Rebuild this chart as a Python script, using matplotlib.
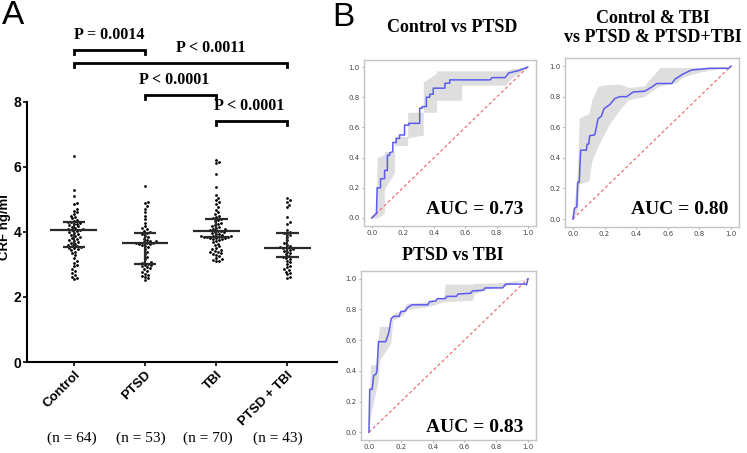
import numpy as np
import matplotlib
matplotlib.use('Agg')
import matplotlib.pyplot as plt

# ---------------- data ----------------
groups = ['Control', 'PTSD', 'TBI', 'PTSD + TBI']
n_labels = ['(n = 64)', '(n = 53)', '(n = 70)', '(n = 43)']

control = [6.34, 5.28, 5.12, 4.88, 4.85, 4.72, 4.66, 4.60, 4.55, 4.50, 4.46, 4.42, 4.38, 4.34,
           4.31, 4.30, 4.28, 4.26, 4.24, 4.21, 4.18, 4.15, 4.12, 4.10, 4.08, 4.07, 4.05, 4.03,
           4.00, 3.97, 3.94, 3.91, 3.88, 3.85, 3.82, 3.79, 3.76, 3.73, 3.70, 3.67, 3.64, 3.61,
           3.58, 3.56, 3.54, 3.52, 3.50, 3.47, 3.44, 3.40, 3.35, 3.28, 3.20, 3.12, 3.05, 3.00,
           2.94, 2.86, 2.80, 2.74, 2.68, 2.63, 2.58, 2.55]
ptsd = [5.43, 4.92, 4.88, 4.80, 4.72, 4.62, 4.50, 4.40, 4.28, 4.18, 4.12, 4.08, 4.04, 4.00,
        3.97, 3.93, 3.88, 3.84, 3.80, 3.76, 3.73, 3.71, 3.69, 3.67, 3.66, 3.65, 3.64, 3.63,
        3.61, 3.58, 3.54, 3.48, 3.40, 3.32, 3.24, 3.16, 3.08, 3.05, 3.02, 3.00, 2.97, 2.94,
        2.91, 2.88, 2.85, 2.81, 2.77, 2.72, 2.68, 2.65, 2.62, 2.57, 2.52]
tbi = [6.21, 6.16, 6.11, 5.78, 5.38, 5.15, 5.06, 4.98, 4.93, 4.86, 4.76, 4.68, 4.60, 4.54,
       4.49, 4.45, 4.42, 4.39, 4.36, 4.33, 4.29, 4.26, 4.22, 4.19, 4.16, 4.13, 4.10, 4.08,
       4.06, 4.04, 4.03, 4.01, 3.99, 3.97, 3.95, 3.93, 3.91, 3.89, 3.88, 3.87, 3.86, 3.85,
       3.85, 3.84, 3.83, 3.82, 3.81, 3.80, 3.78, 3.75, 3.72, 3.68, 3.64, 3.60, 3.56, 3.52,
       3.48, 3.45, 3.42, 3.39, 3.37, 3.35, 3.33, 3.30, 3.26, 3.20, 3.16, 3.13, 3.11, 3.10]
ptsd_tbi = [5.06, 4.99, 4.92, 4.84, 4.76, 4.47, 4.30, 4.26, 4.06, 4.01, 3.97, 3.94, 3.90,
            3.84, 3.74, 3.65, 3.60, 3.57, 3.54, 3.52, 3.50, 3.48, 3.46, 3.43, 3.39, 3.35,
            3.31, 3.27, 3.23, 3.21, 3.17, 3.12, 3.07, 3.01, 2.96, 2.91, 2.86, 2.82, 2.78,
            2.74, 2.70, 2.63, 2.59]
medians = [4.07, 3.65, 4.03, 3.50]
q1 = [3.55, 3.03, 3.85, 3.22]
q3 = [4.30, 3.98, 4.40, 3.97]

# significance brackets: (left group, right group, height, label)
brackets = [(0, 1, 9.60, 'P = 0.0014'),
            (0, 3, 9.20, 'P < 0.0011'),
            (1, 2, 8.22, 'P < 0.0001'),
            (2, 3, 7.42, 'P < 0.0001')]
bracket_label_x = [0.5, 1.92, 1.41, 2.46]

# ROC: Control vs PTSD  (fpr, tpr)
cp_curve = [(0.00, 0.00), (0.030, 0.03), (0.034, 0.20), (0.056, 0.20), (0.056, 0.26),
            (0.082, 0.26), (0.082, 0.315), (0.100, 0.315), (0.100, 0.415), (0.114, 0.415),
            (0.114, 0.43), (0.135, 0.44), (0.135, 0.50), (0.157, 0.50), (0.157, 0.527),
            (0.178, 0.527), (0.178, 0.55), (0.21, 0.55), (0.21, 0.615), (0.237, 0.615),
            (0.237, 0.627), (0.307, 0.627), (0.307, 0.727), (0.323, 0.727), (0.323, 0.738),
            (0.35, 0.738), (0.35, 0.80), (0.372, 0.80), (0.372, 0.82), (0.394, 0.82),
            (0.394, 0.86), (0.469, 0.86), (0.469, 0.893), (0.50, 0.893), (0.50, 0.915),
            (0.76, 0.915), (0.77, 0.93), (0.856, 0.93), (0.877, 0.96), (0.94, 0.976), (1.00, 1.00)]
# band: (fpr, lower, upper)
cp_band = [(0.00, 0.00, 0.02), (0.03, 0.00, 0.05), (0.034, 0.00, 0.40), (0.08, 0.03, 0.42),
           (0.08, 0.19, 0.44), (0.146, 0.30, 0.44), (0.146, 0.48, 0.54), (0.23, 0.48, 0.54),
           (0.23, 0.53, 0.70), (0.33, 0.55, 0.70), (0.33, 0.70, 0.90), (0.415, 0.70, 0.96),
           (0.415, 0.78, 0.975), (0.576, 0.78, 0.975), (0.576, 0.88, 0.975), (0.856, 0.88, 0.975),
           (0.90, 0.93, 0.99), (1.00, 1.00, 1.00)]

# ROC: Control & TBI vs PTSD & PTSD+TBI
ct_curve = [(0.00, 0.00), (0.01, 0.07), (0.025, 0.08), (0.03, 0.24), (0.04, 0.24), (0.049, 0.45),
            (0.085, 0.45), (0.09, 0.49), (0.10, 0.49), (0.106, 0.545), (0.138, 0.55), (0.148, 0.60),
            (0.159, 0.656), (0.18, 0.672), (0.197, 0.722), (0.233, 0.748), (0.265, 0.788),
            (0.297, 0.80), (0.34, 0.80), (0.38, 0.83), (0.455, 0.836), (0.50, 0.864), (0.53, 0.886),
            (0.625, 0.886), (0.646, 0.915), (0.70, 0.95), (0.75, 0.974), (0.86, 0.985),
            (0.985, 0.985), (1.00, 1.00)]
ct_band = [(0.00, 0.00, 0.02), (0.028, 0.05, 0.30), (0.04, 0.23, 0.66), (0.10, 0.25, 0.69),
           (0.12, 0.38, 0.78), (0.16, 0.48, 0.87), (0.23, 0.62, 0.88), (0.30, 0.72, 0.88),
           (0.35, 0.78, 0.86), (0.45, 0.80, 0.87), (0.50, 0.84, 0.93), (0.55, 0.87, 0.99),
           (0.65, 0.89, 0.99), (0.70, 0.93, 0.99), (0.80, 0.96, 0.99), (1.00, 1.00, 1.00)]

# ROC: PTSD vs TBI
pt_curve = [(0.00, 0.00), (0.005, 0.28), (0.02, 0.28), (0.03, 0.37), (0.045, 0.38), (0.05, 0.40),
            (0.06, 0.59), (0.105, 0.59), (0.115, 0.62), (0.125, 0.65), (0.14, 0.74), (0.155, 0.755),
            (0.19, 0.755), (0.20, 0.785), (0.23, 0.79), (0.24, 0.81), (0.27, 0.83), (0.37, 0.83),
            (0.38, 0.85), (0.42, 0.855), (0.43, 0.87), (0.48, 0.87), (0.49, 0.885), (0.55, 0.885),
            (0.56, 0.90), (0.64, 0.905), (0.65, 0.92), (0.72, 0.925), (0.73, 0.94), (0.84, 0.94),
            (0.86, 0.965), (0.98, 0.965), (0.99, 0.96), (1.00, 1.00)]
pt_band = [(0.00, 0.00, 0.02), (0.01, 0.11, 0.44), (0.05, 0.30, 0.44), (0.055, 0.32, 0.60),
           (0.067, 0.47, 0.69), (0.137, 0.58, 0.69), (0.15, 0.73, 0.77), (0.21, 0.76, 0.80),
           (0.24, 0.80, 0.84), (0.38, 0.82, 0.85), (0.47, 0.85, 0.88), (0.48, 0.85, 0.965),
           (0.65, 0.86, 0.965), (0.66, 0.90, 0.97), (0.73, 0.93, 0.97), (0.85, 0.95, 0.975),
           (1.00, 1.00, 1.00)]

roc_titles = ['Control vs PTSD', 'Control & TBI\nvs PTSD & PTSD+TBI', 'PTSD vs TBI']
roc_auc = ['AUC = 0.73', 'AUC = 0.80', 'AUC = 0.83']

# ---------------- figure ----------------
W, H = 747, 453
fig = plt.figure(figsize=(W / 100, H / 100), dpi=100)
SANS = 'Liberation Sans'
SERIF = 'Liberation Serif'


def fx(px):
    return px / W


def fy(py):
    return 1 - py / H


def swarm_offsets(vals, d=3.0, ypx=32.5, xpx=71.0):
    vals = np.asarray(vals, float)
    order = np.argsort(vals)
    placed = []
    offs = np.zeros(len(vals))
    cands = [0.0]
    for j in range(1, 60):
        cands += [j * d * 0.5, -j * d * 0.5]
    for i in order:
        y = vals[i] * ypx
        for c in cands:
            if all((c - px) ** 2 + (y - py) ** 2 >= d * d for px, py in placed):
                break
        placed.append((c, y))
        offs[i] = c / xpx
    return offs


# ----- panel A -----
axA = fig.add_axes([fx(27), fy(362), fx(310), 260 / H])
data = [control, ptsd, tbi, ptsd_tbi]
for i, vals in enumerate(data):
    xs = i + swarm_offsets(vals)
    axA.scatter(xs, vals, s=4, color='black', lw=0, zorder=3)
    axA.hlines(medians[i], i - 0.33, i + 0.33, color='#2a2a2a', lw=1.6, zorder=4)
    axA.hlines([q1[i], q3[i]], i - 0.16, i + 0.16, color='#2a2a2a', lw=1.6, zorder=4)
    axA.vlines(i, q1[i], q3[i], color='#2a2a2a', lw=1.6, zorder=4)

axA.set_xlim(-0.66, 3.70)
axA.set_ylim(0, 8)
for s in ['top', 'right']:
    axA.spines[s].set_visible(False)
for s in ['left', 'bottom']:
    axA.spines[s].set_linewidth(1.5)
axA.set_yticks([0, 2, 4, 6, 8])
axA.set_yticklabels(['0', '2', '4', '6', '8'], fontsize=10, fontweight='bold', family=SANS)
axA.set_xticks(range(4))
axA.set_xticklabels(groups, rotation=45, ha='right', rotation_mode='anchor',
                    fontsize=9.5, fontweight='bold', family=SANS)
axA.tick_params(length=3, width=1.2, pad=2)
axA.tick_params(axis='y', pad=1.2)
axA.set_ylabel('CRF ng/ml', fontsize=9.5, fontweight='bold', family=SANS)
axA.yaxis.set_label_coords(-0.052, 0.52)

for (a, b, h, lab), lx in zip(brackets, bracket_label_x):
    axA.plot([a, a, b, b], [h - 0.13, h, h, h - 0.13], color='black', lw=2,
             clip_on=False, solid_joinstyle='miter')
    axA.text(lx, h + 0.22, lab, ha='center', va='bottom', fontsize=11.5,
             fontweight='bold', family=SERIF, clip_on=False)

for i, t in enumerate(n_labels):
    fig.text(fx([72, 141, 208, 278][i]), fy(438), t, ha='center', va='center',
             fontsize=11, family=SERIF)

fig.text(fx(2), fy(16), 'A', fontsize=24, family=SANS, ha='left', va='center')
fig.text(fx(332), fy(17), 'B', fontsize=24, family=SANS, ha='left', va='center')

# ----- panel B -----
roc_rects = [(364, 59.5, 171.5, 166), (565, 58.4, 174, 168.3), (361, 271, 175, 169)]
roc_data = [(cp_curve, cp_band), (ct_curve, ct_band), (pt_curve, pt_band)]
title_pos = [(452, 27), (653, 28), (453, 255)]
auc_pos = [(523, 209), (728, 210), (523, 428)]

for k in range(3):
    l, t, w, h = roc_rects[k]
    ax = fig.add_axes([fx(l), fy(t + h), w / W, h / H])
    curve, band = roc_data[k]
    cx = [p[0] for p in curve]
    cy = [p[1] for p in curve]
    bx = [p[0] for p in band]
    blo = [p[1] for p in band]
    bhi = [p[2] for p in band]
    ax.fill_between(bx, blo, bhi, color='#dedede', lw=0, zorder=1)
    ax.plot([0, 1], [0, 1], color='#f07070', lw=0.9, ls=(0, (2.5, 2)), zorder=2)
    ax.plot(cx, cy, color='#5b5bef', lw=1.1, zorder=3)
    ax.set_xlim(-0.05, 1.05)
    ax.set_ylim(-0.05, 1.05)
    ticks = [0.0, 0.2, 0.4, 0.6, 0.8, 1.0]
    ax.set_xticks(ticks)
    ax.set_yticks(ticks)
    ax.set_xticklabels([f'{v:.1f}' for v in ticks])
    ax.set_yticklabels([f'{v:.1f}' for v in ticks])
    ax.tick_params(labelsize=5, labelcolor='#444444', length=1.5, width=0.6,
                   color='#999999', pad=1.5)
    for s in ax.spines.values():
        s.set_color('#c4c4c4')
        s.set_linewidth(1.0)
    tx, ty = title_pos[k]
    fig.text(fx(tx), fy(ty), roc_titles[k], ha='center', va='center', fontsize=13,
             fontweight='bold', family=SERIF, linespacing=1.15)
    ax_, ay_ = auc_pos[k]
    fig.text(fx(ax_), fy(ay_), roc_auc[k], ha='right', va='center', fontsize=14,
             fontweight='bold', family=SERIF)

fig.savefig('out.png', dpi=100, facecolor='white')
